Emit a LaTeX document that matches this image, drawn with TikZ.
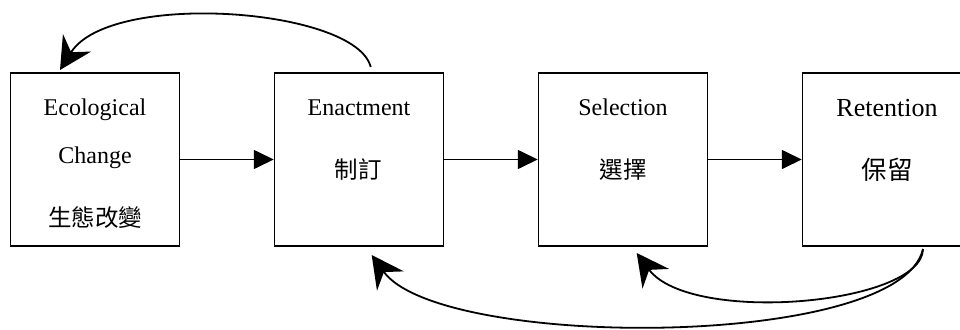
\documentclass[tikz,border=0pt]{standalone}
\usepackage{fontspec}
\setmainfont{Liberation Serif}
\newfontfamily\cjk{Noto Sans CJK TC}
\usetikzlibrary{arrows.meta}
\tikzset{
  stagebox/.style={draw, line width=1.5pt, minimum width=169pt, minimum height=173pt, inner sep=0pt},
  entext/.style={font=\fontsize{24}{28}\selectfont, anchor=base, inner sep=0pt},
  bigen/.style={font=\fontsize{26}{30}\selectfont, anchor=base, inner sep=0pt},
  zhtext/.style={font=\cjk\fontsize{23.5}{28}\selectfont, inner sep=0pt},
  bigzh/.style={font=\cjk\fontsize{25.5}{30}\selectfont, inner sep=0pt},
  flow/.style={line width=1.7pt, -{Triangle[length=20pt,width=19pt]}},
  loopback/.style={line width=1.8pt, -{Stealth[length=32pt,width=33pt,inset=11pt]}}
}
\begin{document}
\begin{tikzpicture}[x=1pt,y=-1pt]
  \useasboundingbox (0,0) rectangle (960,329);
  \clip (0,0) rectangle (960,329);

  % the four stages
  \node[stagebox] (eco) at (95,159.5) {};
  \node[stagebox] (ena) at (359,159.5) {};
  \node[stagebox] (sel) at (623,159.5) {};
  \node[stagebox] (ret) at (887,159.5) {};

  % stage labels
  \node[entext] (ecoA) at (95,115) {Ecological};
  \node[entext] (ecoB) at (95,163) {Change};
  \node[zhtext] (ecoC) at (95,218) {生態改變};
  \node[entext] (enaA) at (359,115) {Enactment};
  \node[zhtext] (enaB) at (358,170) {制訂};
  \node[entext] (selA) at (623,115) {Selection};
  \node[zhtext] (selB) at (623,170) {選擇};
  \node[bigen] (retA) at (887,116.5) {Retention};
  \node[bigzh] (retB) at (887,170) {保留};

  % forward flow
  \draw[flow] (eco.east) -- (ena.west);
  \draw[flow] (ena.east) -- (sel.west);
  \draw[flow] (sel.east) -- (ret.west);

  % feedback loops
  \coordinate (enaTop) at (370.7,67);
  \coordinate (ecoTip) at (60,70);
  \coordinate (retFoot) at (923,249);
  \coordinate (selTip) at (636.7,253);
  \coordinate (enaTip) at (371.7,255);

  \draw[loopback] (enaTop) .. controls (356,8) and (110,-10) .. (ecoTip);
  \draw[loopback] (retFoot) .. controls (922,305) and (690,325) .. (selTip);
  \draw[loopback] (retFoot) .. controls (900,350) and (440,350) .. (enaTip);
\end{tikzpicture}
\end{document}
